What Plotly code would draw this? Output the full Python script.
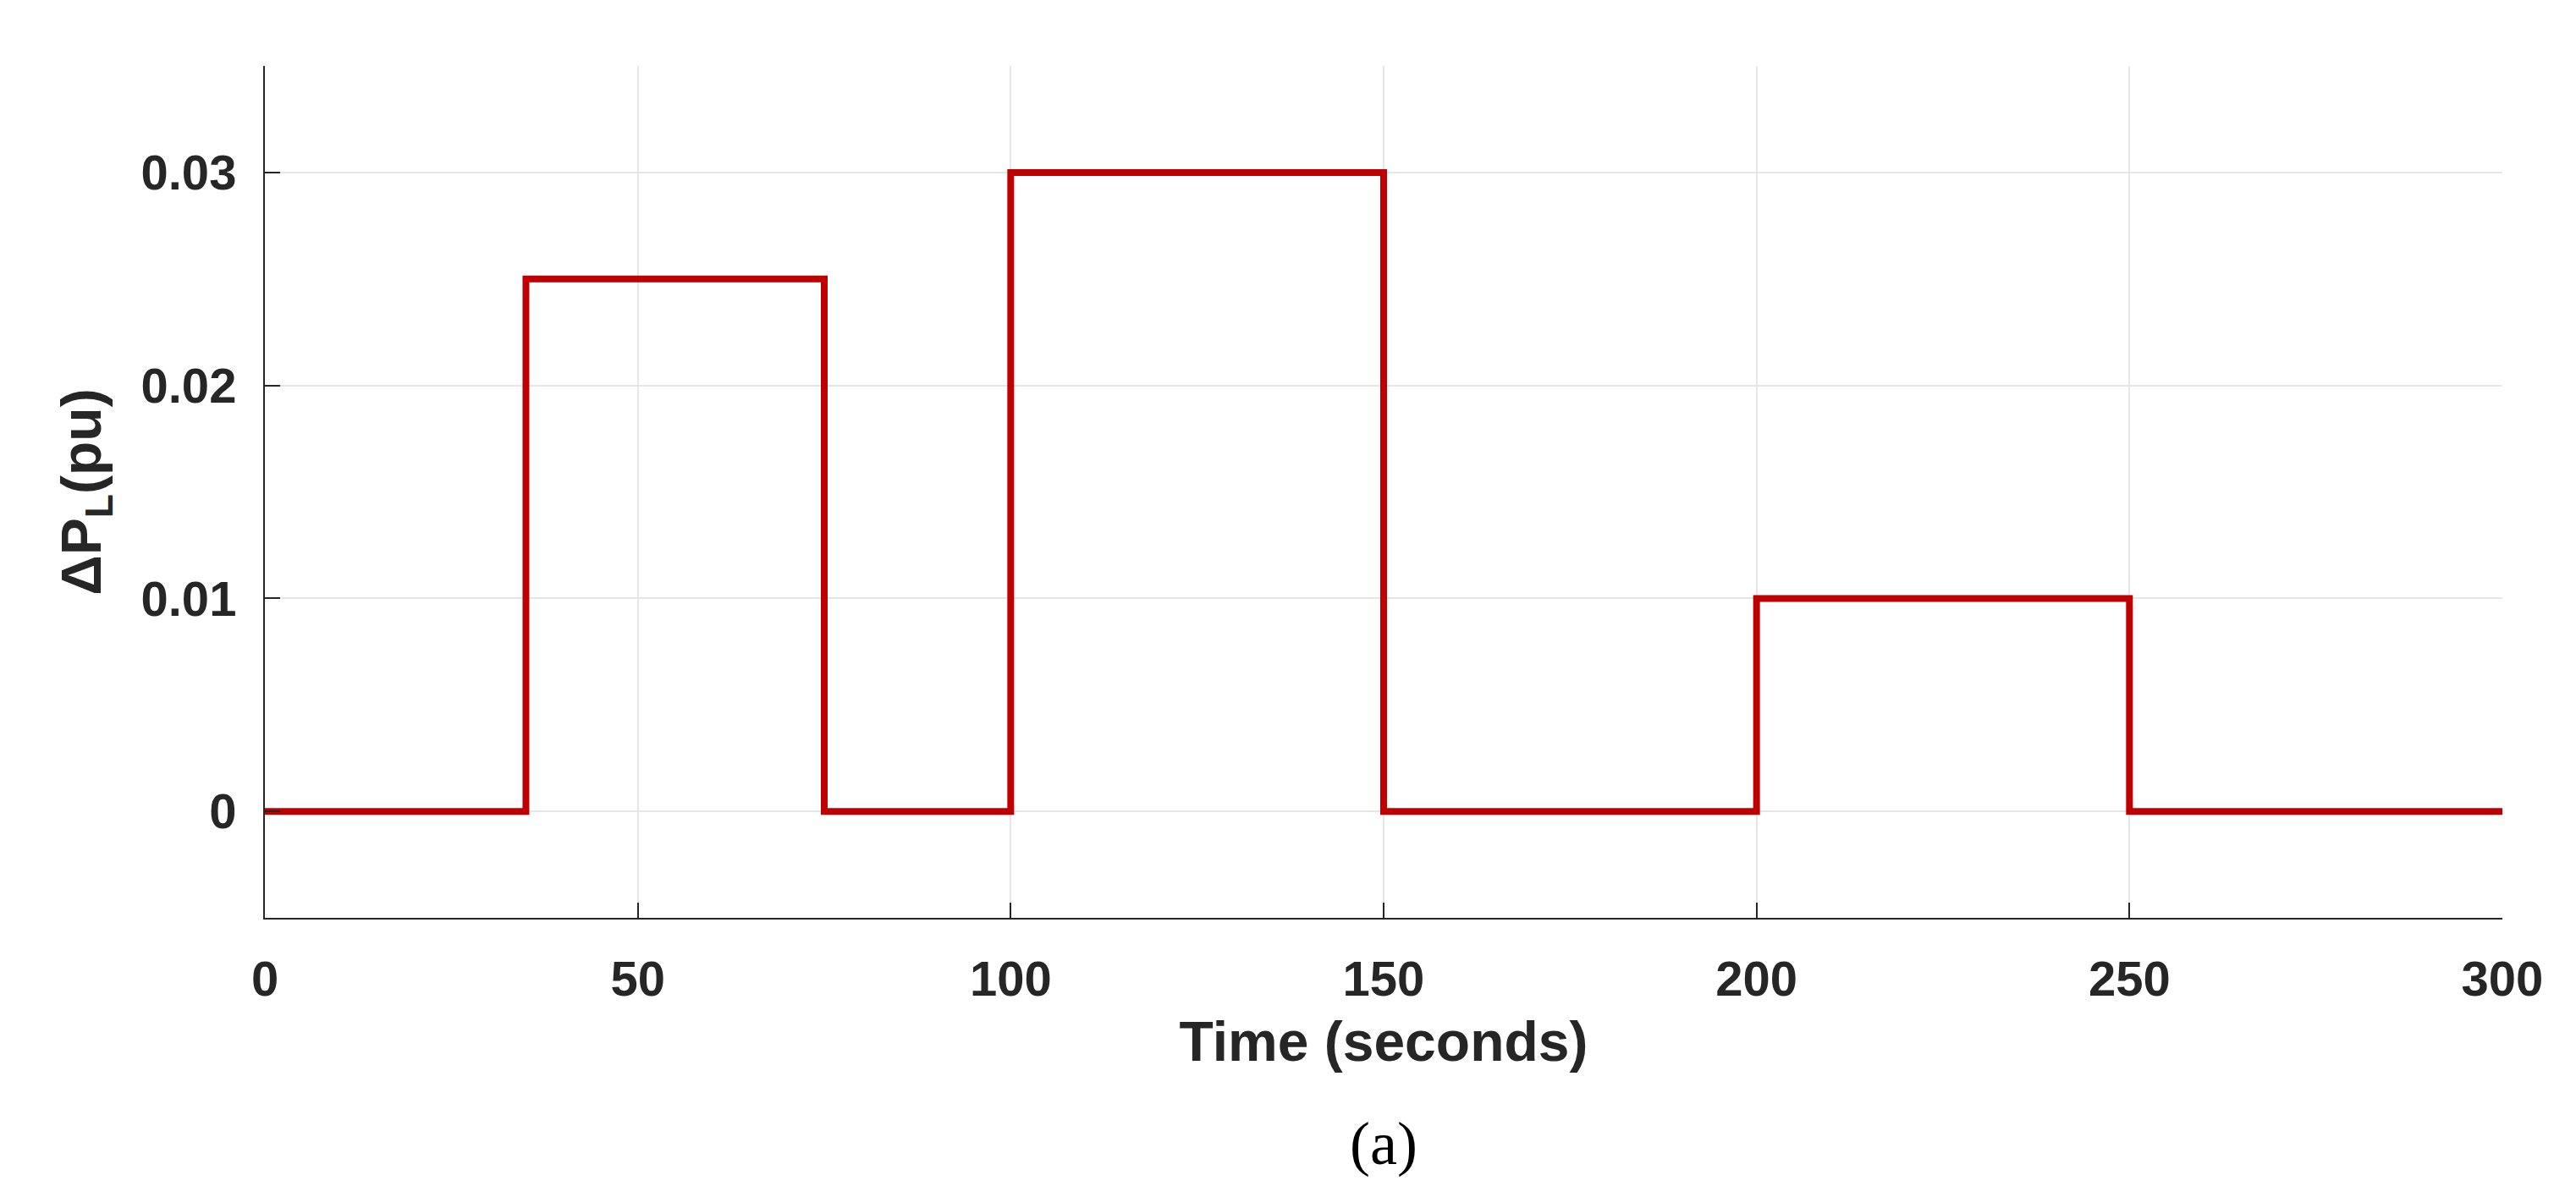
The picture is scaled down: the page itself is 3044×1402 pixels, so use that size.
import plotly.graph_objects as go

# step times (s) and load change values (pu)
time_s = [0, 35, 75, 100, 150, 200, 250, 300]
delta_pl = [0, 0.025, 0, 0.03, 0, 0.01, 0, 0]

x_ticks = [0, 50, 100, 150, 200, 250, 300]
y_ticks = [0, 0.01, 0.02, 0.03]
y_tick_text = ['0', '0.01', '0.02', '0.03']

font_main = 'Liberation Sans, Arial, sans-serif'

fig = go.Figure()
fig.add_trace(go.Scatter(
    x=time_s, y=delta_pl, mode='lines', line_shape='hv',
    line=dict(color='#C00000', width=8), showlegend=False,
))

axis_common = dict(
    showline=True, linecolor='#262626', linewidth=2,
    ticks='inside', ticklen=18, tickcolor='#262626', tickwidth=2,
    showgrid=True, gridcolor='#E6E6E6', gridwidth=2, zeroline=False,
    tickfont=dict(family=font_main, size=58, color='#262626', weight='bold'),
)

fig.update_layout(
    width=3044, height=1402,
    paper_bgcolor='white', plot_bgcolor='white',
    margin=dict(l=305, r=95, t=70, b=325),
    xaxis=dict(range=[0, 300], tickvals=x_ticks, ticklabelstandoff=20,
               title=dict(text='Time (seconds)', standoff=20,
                          font=dict(family=font_main, size=66, color='#262626', weight='bold')),
               **axis_common),
    yaxis=dict(range=[-0.005, 0.035], tickvals=y_ticks, ticktext=y_tick_text,
               ticklabelstandoff=20,
               title=dict(text='ΔP<sub>L</sub>(pu)', standoff=25,
                          font=dict(family=font_main, size=66, color='#262626', weight='bold')),
               **axis_common),
    annotations=[dict(text='(a)', x=0.5, y=-0.265, xref='paper', yref='paper',
                      showarrow=False, yanchor='middle',
                      font=dict(family='Liberation Serif, serif', size=72, color='black'))],
)

fig.write_html("out.html")
